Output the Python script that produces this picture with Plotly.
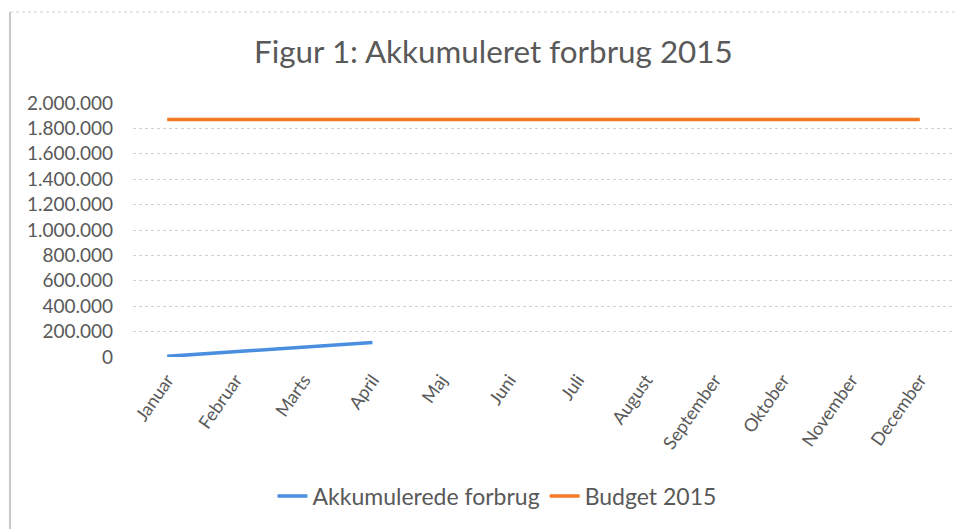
import plotly.graph_objects as go

months = ["Januar", "Februar", "Marts", "April", "Maj", "Juni", "Juli",
          "August", "September", "Oktober", "November", "December"]
akkumuleret = [5000, 42000, 80000, 115000]
budget = [1870000] * 12
y_ticks = [0, 200000, 400000, 600000, 800000, 1000000, 1200000,
           1400000, 1600000, 1800000, 2000000]

FONT = "Lato"
GREY = "#595959"

fig = go.Figure()
fig.add_trace(go.Scatter(x=months[:len(akkumuleret)], y=akkumuleret, mode="lines",
                         name="Akkumulerede forbrug",
                         line=dict(color="#4a8ee0", width=3.5)))
fig.add_trace(go.Scatter(x=months, y=budget, mode="lines", name="Budget 2015",
                         line=dict(color="#f27a22", width=3.5)))

L, R, T, B = 125, 19, 95, 180
PH = 529 - T - B
PW = 965 - L - R

fig.update_layout(
    width=965, height=529,
    margin=dict(l=L, r=R, t=T, b=B),
    paper_bgcolor="white", plot_bgcolor="white",
    separators=",.",
    font=dict(family=FONT, color=GREY, size=17),
    title=dict(text="Figur 1: Akkumuleret forbrug 2015", x=0.503, xanchor="center",
               y=1 - 44 / 529, yanchor="middle",
               font=dict(family=FONT, size=31.4, color=GREY)),
    xaxis=dict(categoryorder="array", categoryarray=months, tickangle=-55,
               showgrid=False, showline=False, zeroline=False, ticks="",
               ticklabelstandoff=8,
               range=[-0.5, 11.5], tickfont=dict(size=18, color=GREY)),
    yaxis=dict(range=[0, 2000000], tickvals=y_ticks, tickformat=",d",
               showgrid=True, gridcolor="#cfcfcf", griddash="dot", gridwidth=1,
               zeroline=False, showline=False, ticks="", ticklabelstandoff=19,
               tickfont=dict(size=19, color=GREY)),
    legend=dict(orientation="h", x=(489 - L) / PW, xanchor="center",
                y=(529 - B - 488) / PH, yanchor="middle",
                font=dict(size=23, color=GREY)),
    showlegend=True,
    shapes=[
        dict(type="line", xref="paper", yref="paper", x0=(2 - L) / PW, x1=(2 - L) / PW,
             y0=-0.8, y1=(529 - B - 4) / PH, line=dict(color="#c8c8c8", width=2)),
        dict(type="line", xref="paper", yref="paper", x0=(2 - L) / PW, x1=1.05,
             y0=(529 - B - 4) / PH, y1=(529 - B - 4) / PH,
             line=dict(color="#d0d0d0", width=1, dash="dot")),
    ],
)
fig.write_html("out.html")
